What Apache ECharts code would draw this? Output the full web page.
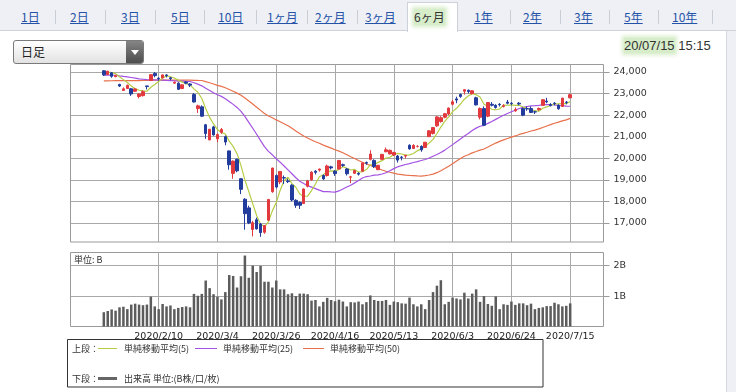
<!DOCTYPE html>
<html><head><meta charset="utf-8">
<script src="https://cdn.jsdelivr.net/npm/echarts@6/dist/echarts.min.js"></script>
<style>
html,body{margin:0;padding:0;width:736px;height:392px;overflow:hidden;background:#fff;font-family:"Noto Sans CJK JP",sans-serif;}
#top{position:absolute;left:0;top:0;width:736px;height:30px;background:#eef0f5;border-bottom:1px solid #cdd1da;}
.tab{position:absolute;top:9px;font-size:12px;line-height:16px;color:#2553a8;text-decoration:underline;white-space:nowrap;}
.sep{position:absolute;top:10px;width:1px;height:14px;background:#c9cdd6;}
#sel{position:absolute;left:407px;top:2px;width:49px;height:29px;background:#fff;border:1px solid #cdd1da;border-bottom:none;}
#selt{position:absolute;left:414px;top:9px;font-size:12px;line-height:16px;color:#333;background:#d7ecc9;box-shadow:0 0 4px 2px #d7ecc9;white-space:nowrap;}
#rstrip{position:absolute;left:726px;top:31px;width:10px;height:361px;background:#eef0f5;border-left:1px solid #d5d8e0;}
#dd{position:absolute;left:13px;top:40px;width:129px;height:22px;border:1px solid #7a7a7a;border-radius:3px;background:linear-gradient(#ffffff,#e2e2e2);}
#ddt{position:absolute;left:7px;top:0;font-size:12px;line-height:22px;color:#222;}
#dda{position:absolute;right:0;top:0;width:17px;height:22px;background:linear-gradient(#858585,#4d4d4d);border-radius:0 2px 2px 0;}
#dda:after{content:"";position:absolute;left:5px;top:9px;border-left:4px solid transparent;border-right:4px solid transparent;border-top:5px solid #fff;}
#dt{position:absolute;left:624px;top:37px;font-family:"Liberation Sans",Arial,sans-serif;font-size:13px;line-height:17px;color:#333;white-space:nowrap;}
#dt span{background:#d7ecc9;box-shadow:0 0 4px 2px #d7ecc9;}
#chart{position:absolute;left:0;top:0;width:736px;height:392px;}
</style></head>
<body>
<div id="top"></div>
<div id="sel"></div>
<div class="tab" style="left:21px">1日</div>
<div class="sep" style="left:55px"></div>
<div class="tab" style="left:70px">2日</div>
<div class="sep" style="left:105px"></div>
<div class="tab" style="left:121px">3日</div>
<div class="sep" style="left:155px"></div>
<div class="tab" style="left:171px">5日</div>
<div class="sep" style="left:204px"></div>
<div class="tab" style="left:218px">10日</div>
<div class="sep" style="left:256px"></div>
<div class="tab" style="left:267px">1ヶ月</div>
<div class="sep" style="left:307px"></div>
<div class="tab" style="left:315px">2ヶ月</div>
<div class="sep" style="left:357px"></div>
<div class="tab" style="left:365px">3ヶ月</div>
<div id="selt">6ヶ月</div>
<div class="tab" style="left:474px">1年</div>
<div class="sep" style="left:510px"></div>
<div class="tab" style="left:523px">2年</div>
<div class="sep" style="left:560px"></div>
<div class="tab" style="left:574px">3年</div>
<div class="sep" style="left:609px"></div>
<div class="tab" style="left:624px">5年</div>
<div class="sep" style="left:658px"></div>
<div class="tab" style="left:672px">10年</div>
<div class="sep" style="left:712px"></div>
<div id="rstrip"></div>
<div id="dd"><div id="ddt">日足</div><div id="dda"></div></div>
<div id="dt"><span>20/07/15</span> 15:15</div>
<div id="chart"></div>
<script>
// ---- data ----
const dates = [
'2020/1/21','2020/1/22','2020/1/23','2020/1/24','2020/1/27','2020/1/28','2020/1/29','2020/1/30','2020/1/31',
'2020/2/3','2020/2/4','2020/2/5','2020/2/6','2020/2/7','2020/2/10','2020/2/12','2020/2/13','2020/2/14','2020/2/17','2020/2/18','2020/2/19','2020/2/20','2020/2/21','2020/2/25','2020/2/26','2020/2/27','2020/2/28',
'2020/3/2','2020/3/3','2020/3/4','2020/3/5','2020/3/6','2020/3/9','2020/3/10','2020/3/11','2020/3/12','2020/3/13','2020/3/16','2020/3/17','2020/3/18','2020/3/19','2020/3/23','2020/3/24','2020/3/25','2020/3/26','2020/3/27','2020/3/30','2020/3/31',
'2020/4/1','2020/4/2','2020/4/3','2020/4/6','2020/4/7','2020/4/8','2020/4/9','2020/4/10','2020/4/13','2020/4/14','2020/4/15','2020/4/16','2020/4/17','2020/4/20','2020/4/21','2020/4/22','2020/4/23','2020/4/24','2020/4/27','2020/4/28','2020/4/30',
'2020/5/1','2020/5/7','2020/5/8','2020/5/11','2020/5/12','2020/5/13','2020/5/14','2020/5/15','2020/5/18','2020/5/19','2020/5/20','2020/5/21','2020/5/22','2020/5/25','2020/5/26','2020/5/27','2020/5/28','2020/5/29',
'2020/6/1','2020/6/2','2020/6/3','2020/6/4','2020/6/5','2020/6/8','2020/6/9','2020/6/10','2020/6/11','2020/6/12','2020/6/15','2020/6/16','2020/6/17','2020/6/18','2020/6/19','2020/6/22','2020/6/23','2020/6/24','2020/6/25','2020/6/26','2020/6/29','2020/6/30',
'2020/7/1','2020/7/2','2020/7/3','2020/7/6','2020/7/7','2020/7/8','2020/7/9','2020/7/10','2020/7/13','2020/7/14','2020/7/15'];

const opens = [24050,23880,23960,23780,23420,23140,23230,23220,23100,22860,
22900,23350,23600,23930,23710,23720,23860,23730,23480,23480,
23230,23530,23440,22950,22300,22380,21550,20850,21450,20900,
21200,21000,20340,19300,19950,19050,18100,17700,16700,17150,
16950,16570,17130,18450,19200,18900,19100,18950,18750,18050,
17950,17900,18700,19000,19400,19450,19200,19200,19600,19400,
19500,19700,19500,19120,19300,19300,19400,19800,19950,19900,
19470,19950,20300,20200,20150,20100,20050,20100,20600,20450,
20550,20550,20500,21000,21150,21500,21700,21900,22050,22500,
22750,22950,23100,23150,23000,22800,21900,22300,21950,22500,
22450,22500,22400,22600,22550,22200,22550,22300,22300,22300,
22150,22250,22450,22650,22480,22550,22450,22400,22600,22800];

const closes = [23864,24031,23795,23827,23343,23216,23379,22977,23205,22972,
23084,23320,23873,23828,23686,23861,23828,23688,23523,23194,
23400,23479,23386,22605,22426,21948,21142,21344,21082,21100,
21329,20749,19698,19867,19416,18559,17431,17002,17011,16726,
16552,16887,18092,19546,18664,19389,19084,18917,18065,17818,
17820,18576,18950,19353,19345,19498,19043,19639,19550,19290,
19897,19669,19281,19138,19429,19262,19783,19771,20194,19619,
19674,20179,20390,20366,20267,19914,20037,20133,20433,20595,
20552,20388,20741,21271,21419,21916,21877,22062,22325,22613,
22695,22863,23178,23091,23124,22472,22305,21530,22582,22455,
22355,22479,22437,22549,22534,22259,22512,21995,22288,22122,
22145,22306,22714,22614,22438,22529,22291,22785,22587,22945];

const highs = [24083,24050,23990,23870,23450,23280,23410,23250,23260,23010,
23150,23360,23900,23990,23750,23880,23890,23750,23560,23520,
23420,23570,23480,23020,22480,22450,21590,21350,21500,21150,
21400,21050,20350,19900,19980,19070,18150,17800,17100,17250,
17000,16900,18100,19560,19250,19400,19200,19050,18800,18100,
18000,18600,19000,19400,19450,19520,19250,19700,19650,19450,
19920,19750,19550,19180,19450,19350,19800,19850,20370,19950,
19690,20200,20500,20400,20300,20150,20100,20150,20650,20650,
20600,20600,20750,21300,21450,21950,21950,22100,22350,22700,
22850,23000,23180,23180,23150,22850,22350,22400,22600,22600,
22500,22550,22500,22700,22600,22350,22600,22350,22400,22400,
22200,22350,22720,22800,22550,22600,22500,22800,22650,22990];

const lows = [23810,23860,23730,23750,23300,23115,23220,22890,23080,22775,
22860,23190,23580,23750,23590,23710,23740,23620,23450,23170,
23200,23430,23300,22580,22100,21920,20900,20840,21050,20750,
21130,20600,19470,19050,19350,18340,16690,16950,16380,16700,
16358,16500,17100,18400,18600,18800,18800,18850,18000,17700,
17650,17880,18650,18950,19250,19380,19000,19150,19480,19180,
19480,19600,19200,18850,19280,19200,19380,19700,19900,19550,
19450,19940,20280,20180,20100,19800,19900,20000,20400,20430,
20500,20300,20480,20980,21100,21450,21650,21850,22000,22450,
22550,22800,22950,23000,22950,22450,21800,21500,21900,22400,
22300,22400,22350,22500,22450,22150,22450,21950,22200,22100,
22050,22200,22440,22550,22400,22450,22250,22380,22500,22780];

const volumes = [0.47,0.51,0.56,0.52,0.63,0.65,0.57,0.72,0.75,0.72,
0.70,0.72,0.98,0.66,0.57,0.74,0.66,0.69,0.57,0.61,
0.64,0.66,0.63,1.07,1.01,1.07,1.51,1.26,1.06,0.98,
0.89,1.13,1.69,1.66,1.28,1.65,2.33,1.60,2.00,1.79,
1.99,1.47,1.47,1.28,1.51,1.22,1.22,1.06,1.09,1.00,
1.08,1.08,1.06,0.85,0.87,0.66,0.81,0.94,0.87,0.83,
0.88,0.82,0.66,0.80,0.79,0.82,0.73,0.80,1.02,0.87,
0.84,0.84,0.87,0.71,0.82,0.80,0.76,0.75,0.95,0.73,
0.66,0.73,0.57,0.87,1.13,1.34,1.52,0.73,0.81,0.95,
0.92,0.89,1.11,0.92,1.08,1.22,0.81,1.00,0.74,0.68,
0.99,0.57,0.73,0.71,0.82,0.71,0.76,0.76,0.70,0.75,
0.57,0.61,0.63,0.67,0.67,0.78,0.73,0.66,0.68,0.76];

const ma5 = [23967,23990,23963,23920,23772,23642,23512,23348,23224,23150,
23123,23112,23291,23415,23558,23714,23815,23778,23717,23619,
23527,23457,23396,23213,23059,22769,22301,21893,21588,21323,
21199,21121,20792,20549,20212,19658,18994,18455,17884,17346,
16944,16836,17054,17561,17948,18516,18955,19120,18824,18655,
18341,18239,18246,18503,18809,19144,19238,19376,19415,19404,
19484,19609,19537,19455,19483,19356,19379,19477,19688,19726,
19808,19887,20011,20046,20175,20223,20195,20143,20157,20222,
20350,20420,20542,20709,20874,21147,21445,21709,21920,22159,
22314,22512,22735,22888,22990,22946,22834,22504,22403,22269,
22245,22280,22462,22455,22471,22452,22458,22370,22318,22235,
22212,22171,22315,22380,22443,22520,22517,22531,22526,22627];

const ma25 = [23850,23855,23850,23845,23815,23790,23770,23740,23710,23680,
23660,23640,23635,23630,23620,23615,23610,23600,23590,23575,
23570,23560,23555,23497,23431,23354,23239,23141,23031,22941,
22866,22761,22630,22496,22354,22173,21937,21663,21390,21111,
20819,20541,20317,20158,19977,19817,19641,19462,19280,19096,
18931,18828,18732,18663,18593,18520,18452,18449,18437,18432,
18485,18575,18666,18751,18859,18968,19083,19151,19177,19215,
19226,19270,19329,19421,19519,19603,19661,19708,19751,19801,
19844,19897,19941,20010,20095,20176,20264,20376,20503,20631,
20768,20891,21027,21143,21283,21395,21480,21526,21615,21702,
21800,21898,21990,22075,22152,22221,22306,22356,22396,22425,
22434,22451,22477,22489,22482,22475,22452,22436,22416,22409];

const ma50 = [23580,23585,23590,23595,23595,23595,23600,23600,23600,23600,
23605,23605,23610,23615,23615,23620,23620,23620,23620,23620,
23620,23615,23615,23610,23605,23602,23547,23496,23438,23378,
23328,23266,23185,23103,23017,22917,22789,22649,22510,22366,
22217,22076,21959,21874,21776,21694,21601,21509,21389,21264,
21143,21034,20937,20847,20767,20693,20607,20540,20467,20393,
20329,20256,20165,20071,19985,19894,19812,19734,19668,19596,
19522,19456,19396,19351,19308,19267,19245,19220,19207,19197,
19182,19175,19195,19224,19264,19331,19420,19521,19627,19745,
19868,19987,20089,20160,20249,20311,20375,20428,20518,20611,
20702,20780,20849,20913,20977,21033,21102,21149,21203,21260,
21305,21358,21427,21496,21557,21622,21672,21732,21780,21846];

const labelDates = ['2020/2/10','2020/3/4','2020/3/26','2020/4/16','2020/5/13','2020/6/3','2020/6/24','2020/7/15'];
const priceTicks = [17000,18000,19000,20000,21000,22000,23000,24000];
const volTicks = [1,2];

// ---- build ----
const PADL = 8, PADR = 8;
const cats = [];
for (let i = 0; i < PADL; i++) cats.push('padL' + i);
dates.forEach(d => cats.push(d));
for (let i = 0; i < PADR; i++) cats.push('padR' + i);
const pad = arr => Array(PADL).fill('-').concat(arr, Array(PADR).fill('-'));
const ohlc = Array(PADL).fill(['-','-','-','-'])
  .concat(dates.map((d, i) => [opens[i], closes[i], lows[i], highs[i]]),
          Array(PADR).fill(['-','-','-','-']));
const isLabel = (idx, val) => labelDates.indexOf(val) >= 0;

const GL = 70.5, GW = 533;
const txt = (t, x, y, extra) => Object.assign({type:'text', x:x, y:y, silent:true,
  style: {text:t, fill:'#333', font:'9px "Noto Sans CJK JP"', verticalAlign:'middle'}}, extra||{});
const ln = (x1, x2, y, color, w) => ({type:'line', silent:true,
  shape:{x1:x1, y1:y, x2:x2, y2:y}, style:{stroke:color, lineWidth:w}});

const chart = echarts.init(document.getElementById('chart'), null, {renderer:'canvas'});
chart.setOption({
  animation: false,
  backgroundColor: 'transparent',
  grid: [
    {left: GL, top: 64.5, width: GW, height: 177.5, show: true, borderColor: '#9a9a9a', borderWidth: 1, backgroundColor: 'transparent'},
    {left: GL, top: 252.5, width: GW, height: 74, show: true, borderColor: '#9a9a9a', borderWidth: 1, backgroundColor: 'transparent'}
  ],
  xAxis: [
    {type:'category', gridIndex:0, data:cats, boundaryGap:true,
     axisLine:{show:false}, axisTick:{show:false}, axisLabel:{show:false},
     splitLine:{show:true, interval:isLabel, alignWithLabel:true, lineStyle:{color:'#a8a8a8', width:1}}},
    {type:'category', gridIndex:1, data:cats, boundaryGap:true,
     axisLine:{show:false}, axisTick:{show:false},
     axisLabel:{show:true, interval:isLabel, color:'#222', fontSize:9.5, fontFamily:'DejaVu Sans', margin:5},
     splitLine:{show:true, interval:isLabel, alignWithLabel:true, lineStyle:{color:'#a8a8a8', width:1}}}
  ],
  yAxis: [
    {type:'value', gridIndex:0, position:'right', min:16119, max:24343, splitNumber:8, minInterval:1000, maxInterval:1000,
     axisLine:{show:false},
     axisTick:{show:true, inside:false, length:6, lineStyle:{color:'#9a9a9a'}, customValues:priceTicks},
     axisLabel:{customValues:priceTicks, margin:10, color:'#333', fontSize:9.5, fontFamily:'DejaVu Sans',
       formatter: v => priceTicks.indexOf(v) >= 0 ? v.toLocaleString('en-US') : ''},
     splitLine:{show:true, lineStyle:{color:'#a8a8a8', width:1}}},
    {type:'value', gridIndex:1, position:'right', min:0, max:2.43, interval:1,
     axisLine:{show:false},
     axisTick:{show:true, inside:false, length:6, lineStyle:{color:'#9a9a9a'}, customValues:volTicks},
     axisLabel:{customValues:volTicks, margin:10, color:'#333', fontSize:9.5, fontFamily:'DejaVu Sans',
       formatter: v => volTicks.indexOf(v) >= 0 ? v + 'B' : ''},
     splitLine:{show:true, lineStyle:{color:'#a8a8a8', width:1}}}
  ],
  series: [
    {type:'line', xAxisIndex:0, yAxisIndex:0, data:pad(ma50), symbol:'none', lineStyle:{color:'#e8704c', width:1.2}, z:2},
    {type:'line', xAxisIndex:0, yAxisIndex:0, data:pad(ma25), symbol:'none', lineStyle:{color:'#a352e2', width:1.2}, z:2},
    {type:'line', xAxisIndex:0, yAxisIndex:0, data:pad(ma5), symbol:'none', lineStyle:{color:'#b5cd45', width:1.2}, z:2},
    {type:'candlestick', xAxisIndex:0, yAxisIndex:0, data:ohlc, barWidth:3, z:3,
     itemStyle:{color:'#e2393f', color0:'#213c9c', borderColor:'#e2393f', borderColor0:'#213c9c', borderWidth:1}},
    {type:'bar', xAxisIndex:1, yAxisIndex:1, data:pad(volumes), barWidth:2.5, itemStyle:{color:'#5c5c5c'}}
  ],
  graphic: [
    txt('単位: B', 74, 259.5),
    {type:'rect', silent:true, shape:{x:67.5, y:339.5, width:475.5, height:47.5}, style:{fill:'#fff', stroke:'#333', lineWidth:1}},
    txt('上段：', 72, 348.5),
    ln(98, 117, 348.5, '#b5cd45', 1),
    txt('単純移動平均(5)', 124, 348.5),
    ln(195, 217, 348.5, '#a352e2', 1),
    txt('単純移動平均(25)', 223, 348.5),
    ln(303, 324, 348.5, '#e8704c', 1),
    txt('単純移動平均(50)', 330, 348.5),
    txt('下段：', 72, 378.5),
    ln(98, 117, 378.5, '#666', 3),
    txt('出来高 単位:(B株/口/枚)', 124, 378.5)
  ]
});
</script>
</body></html>
